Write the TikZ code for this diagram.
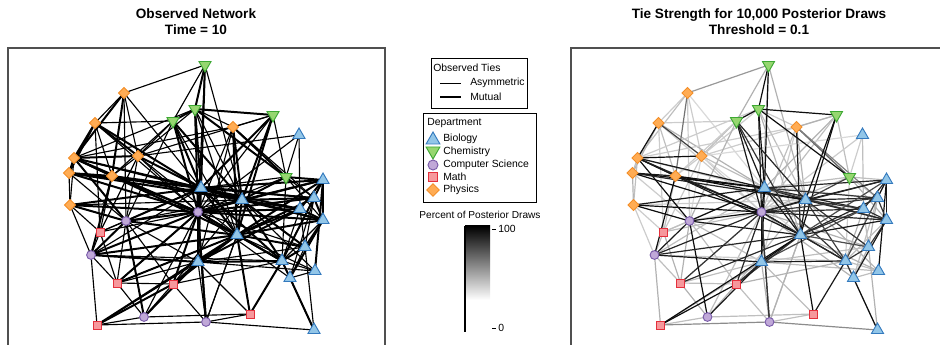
\documentclass[tikz,border=0pt]{standalone}
\usepackage{fontspec}
\setmainfont{Liberation Sans}
\usetikzlibrary{shapes.geometric}
\pgfdeclarelayer{edges}
\pgfsetlayers{edges,main}

\definecolor{bioF}{RGB}{146,198,232}
\definecolor{bioD}{RGB}{52,122,190}
\definecolor{chemF}{RGB}{150,214,112}
\definecolor{chemD}{RGB}{62,168,52}
\definecolor{csF}{RGB}{192,168,216}
\definecolor{csD}{RGB}{122,92,170}
\definecolor{mathF}{RGB}{246,152,156}
\definecolor{mathD}{RGB}{228,48,60}
\definecolor{physF}{RGB}{255,172,84}
\definecolor{physD}{RGB}{244,142,40}
\definecolor{frameC}{RGB}{80,80,80}

\tikzset{
  vtx/.style={inner sep=0pt, line width=0.7pt},
  bio/.style={vtx, regular polygon, regular polygon sides=3, minimum size=10.5pt, draw=bioD, fill=bioF},
  chem/.style={vtx, regular polygon, regular polygon sides=3, shape border rotate=180, minimum size=10.5pt, draw=chemD, fill=chemF},
  cs/.style={vtx, circle, minimum size=6.6pt, draw=csD, fill=csF},
  math/.style={vtx, rectangle, minimum size=6pt, draw=mathD, fill=mathF},
  phys/.style={vtx, diamond, minimum width=8.6pt, minimum height=8.6pt, draw=physD, fill=physF},
  mutual/.style={line width=1.5pt, black},
  asym/.style={line width=0.85pt, black},
  title/.style={font=\bfseries\fontsize{10.2}{12}\selectfont, align=center, inner sep=0pt},
  legtext/.style={font=\fontsize{7.8}{9}\selectfont, inner sep=0pt, anchor=west},
  panel/.style={draw=frameC, line width=1.1pt},
}

\begin{document}
\begin{tikzpicture}[x=0.75pt,y=-0.75pt]
\useasboundingbox (0,0) rectangle (940,345);

% titles
\node[title] (t1) at (196,22) {Observed Network\\Time = 10};
\node[title] (t2) at (759,22) {Tie Strength for 10,000 Posterior Draws\\Threshold = 0.1};

% panel frames (bottom edge lies below the page)
\draw[panel] (8,360) -- (8,48) -- (385,48) -- (385,360);
\draw[panel] (571,360) -- (571,48) -- (948,48) -- (948,360);

% vertices of both panels
\foreach \n/\x/\y/\t in {
  b1/201/188/bio, b2/242/200/bio, b3/299/135/bio, b4/323/180/bio,
  b5/314/198/bio, b6/300/209/bio, b7/323/220/bio, b8/237/235/bio,
  b9/305/247/bio, b10/198/262/bio, b11/282/261/bio, b12/315/271/bio,
  b13/290/278/bio, b14/314/330/bio,
  c1/205/65/chem, c2/195/109/chem, c3/173/121/chem, c4/273/115/chem, c5/286/177/chem,
  s1/126/221/cs, s2/198/212/cs, s3/91/255/cs, s4/144/317/cs, s5/206/322/cs,
  m1/100/232/math, m2/117/283/math, m3/173/284/math, m4/97/325/math, m5/250/314/math,
  p1/124/93/phys, p2/95/123/phys, p3/74/158/phys, p4/69/173/phys,
  p5/138/156/phys, p6/112/176/phys, p7/233/127/phys, p8/70/205/phys}
{
  \node[\t] (L\n) at (\x,\y) {};
  \node[\t] (R\n) at (\x+563.5,\y) {};
}

% ties: from/to/mutual/percent of posterior draws
\def\ties{
p1/c1/0/40, p1/p2/0/20, p1/p3/1/25, p1/p5/0/20, p1/p6/1/55, p1/b1/0/15, p1/s1/0/20,
p2/p3/1/95, p2/p4/1/30, p2/p5/1/75, p2/c3/0/20, p2/b1/1/30, p2/s2/0/20, p2/p6/0/25, p2/m1/0/20,
p3/p4/1/25, p3/p5/1/95, p3/p6/1/90, p3/b1/1/90, p3/s2/1/85, p3/b2/0/25, p3/c2/0/20, p3/b8/1/90, p3/s1/1/95,
p4/p6/1/90, p4/b1/1/95, p4/s2/1/95, p4/p8/0/30, p4/b2/1/85, p4/s1/0/20, p4/b5/0/15,
p5/c3/0/25, p5/c2/0/20, p5/b1/1/25, p5/s2/0/20, p5/p6/0/20, p5/b8/0/15, p5/m1/0/20, p5/s1/0/15, p5/c4/0/20,
p6/b1/1/95, p6/s2/1/90, p6/c3/0/20, p6/b2/1/95, p6/m1/0/25, p6/s3/1/95,
p7/c2/0/20, p7/b8/1/90, p7/c5/1/60, p7/b5/0/50, p7/b10/0/20, p7/b2/1/30, p7/s2/0/25, p7/p3/0/20,
p8/s1/1/95, p8/m1/0/20, p8/b1/1/90, p8/s2/1/95, p8/p3/0/25, p8/b2/0/20, p8/s3/0/20,
c1/c2/1/95, c1/b1/1/95, c1/b2/0/30, c1/c3/0/30, c1/s2/0/20,
c2/c4/1/95, c2/b1/1/95, c2/s2/1/90, c2/c3/1/95, c2/c5/1/95, c2/b8/0/30, c2/b2/0/25,
c3/b1/1/90, c3/s2/1/90, c3/b2/1/85, c3/b8/0/80, c3/s1/0/30,
c4/p7/0/30, c4/b2/1/95, c4/b8/1/95, c4/c5/0/25, c4/b1/1/30, c4/s2/0/25,
c5/b3/0/20, c5/b4/1/25, c5/p7/0/30, c5/b1/0/25, c5/b2/1/75, c5/b5/0/20, c5/b7/0/30, c5/s2/0/25, c5/b11/0/20,
b3/b6/0/25, b3/s2/0/20, b3/p5/0/15,
b1/b2/1/95, b1/s2/1/95, b1/b8/1/90, b1/b4/1/85, b1/b5/1/80, b1/b6/1/85, b1/b7/1/70, b1/b10/1/95,
b1/b11/1/80, b1/s1/1/95, b1/s3/0/25, b1/m1/0/20,
b2/b4/1/90, b2/b5/1/85, b2/b6/1/80, b2/b7/1/85, b2/b8/1/90, b2/b9/1/80, b2/b11/1/75, b2/s2/1/95,
b2/b12/0/30, b2/m3/0/25,
b4/b5/1/90, b4/b6/1/85, b4/b7/1/90, b4/b12/1/95, b4/b8/1/70, b4/b11/0/25, b4/s2/1/85,
b5/b7/1/80, b5/b9/0/30, b5/b8/1/85, b5/b11/1/70, b5/s2/1/80, b5/b13/0/25,
b6/b7/1/80, b6/b8/1/80, b6/b11/0/30, b6/s2/1/85, b6/b10/1/70, b6/b9/0/25,
b7/b9/1/80, b7/b11/0/25, b7/b8/1/90, b7/s2/1/85, b7/b13/1/90,
b8/s2/1/95, b8/b10/1/95, b8/b11/1/85, b8/m5/1/95, b8/s5/0/25, b8/m3/0/30, b8/s1/1/90, b8/b12/0/30, b8/b9/1/70,
b9/b11/1/80, b9/b13/0/30, b9/b10/0/25, b9/s2/0/30,
b10/s2/1/95, b10/b11/1/90, b10/b12/0/25, b10/m3/1/80, b10/s5/0/30, b10/s3/1/90, b10/m2/0/25, b10/s1/0/25,
b11/b12/0/25, b11/b13/1/80, b11/m5/1/90, b11/s2/1/85,
b12/b13/0/25, b13/b14/1/95, b13/s2/0/30,
s2/s1/1/95, s2/s3/1/85, s2/m1/0/25, s2/m3/1/85, s2/s5/1/75, s2/s4/0/25, s2/m2/1/80,
s1/m1/0/25, s1/s3/1/90, s1/m2/0/30, s1/m3/0/25, s1/s4/1/95, s1/b2/0/20,
s3/m1/0/25, s3/m4/0/30, s3/m2/0/25, s3/b8/1/85, s3/b11/0/20,
m2/s4/0/30, m2/m3/0/25, m2/b8/1/85, m2/s2/0/20,
m3/s4/0/30, m3/m4/1/95, m3/b8/1/80, m3/b11/0/30, m3/s5/0/25,
m4/s4/0/25, m4/b8/1/95, m4/s5/0/45, m4/b10/0/30,
s4/m5/0/25, s4/b10/1/90,
s5/b8/0/30, s5/m5/0/25, s5/b14/0/45, s5/s2/1/80,
m5/b10/0/25, b14/b11/0/25, b14/b9/0/30, m1/m2/0/30}

\begin{pgfonlayer}{edges}
  % observed network
  \foreach \a/\b/\m/\g in \ties {
    \ifnum\m=1
      \draw[mutual] (L\a.center) -- (L\b.center);
    \else
      \draw[asym] (L\a.center) -- (L\b.center);
    \fi
  }
  % posterior tie strength: light ties first, dark ties on top
  \foreach \a/\b/\m/\g in \ties {
    \ifnum\g<50
      \draw[line width=0.9pt, draw=black!\g] (R\a.center) -- (R\b.center);
    \fi
  }
  \foreach \a/\b/\m/\g in \ties {
    \ifnum\g>49
      \draw[line width=0.9pt, draw=black!\g] (R\a.center) -- (R\b.center);
    \fi
  }
\end{pgfonlayer}

% legend: observed ties
\draw[line width=0.75pt] (431,59) rectangle (527,109);
\node[legtext] (lt) at (433,68) {Observed Ties};
\coordinate (la1) at (440,83);
\coordinate (la2) at (461,83);
\coordinate (lm1) at (440,97);
\coordinate (lm2) at (461,97);
\draw[line width=0.6pt] (la1) -- (la2);
\draw[line width=2.2pt] (lm1) -- (lm2);
\node[legtext] (lat) at (470,83) {Asymmetric};
\node[legtext] (lmt) at (470,97) {Mutual};

% legend: department
\draw[line width=0.75pt] (423,114) rectangle (536,203);
\node[legtext] (ld) at (427,123) {Department};
\node[bio, minimum size=12pt] (kb) at (433,140) {};
\node[legtext] at (443,139) {Biology};
\node[chem, minimum size=12pt] (kc) at (433,151) {};
\node[legtext] at (443,152) {Chemistry};
\node[cs, minimum size=7.5pt] (ks) at (433,165) {};
\node[legtext] at (443,165) {Computer Science};
\node[math, minimum size=6.8pt] (km) at (433,177) {};
\node[legtext] at (443,177) {Math};
\node[phys, minimum width=9.6pt, minimum height=9.6pt] (kp) at (433,190) {};
\node[legtext] at (443,190) {Physics};

% colour bar
\node[font=\fontsize{7.6}{9}\selectfont, inner sep=0pt] (cbt) at (480,215) {Percent of Posterior Draws};
\shade[top color=black, bottom color=white] (465,226) rectangle (490,300);
\coordinate (cb1) at (465,226);
\coordinate (cb2) at (465,332);
\draw[line width=0.8pt] (cb1) -- (cb2);
\draw[line width=0.5pt] (492,229) -- (496,229);
\draw[line width=0.5pt] (492,328) -- (496,328);
\node[legtext] at (498,229) {100};
\node[legtext] at (498,328) {0};
\end{tikzpicture}
\end{document}
